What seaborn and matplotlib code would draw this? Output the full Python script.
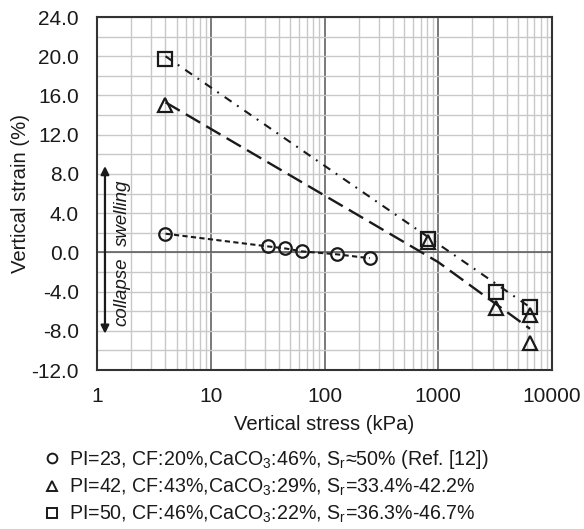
import numpy as np
import pandas as pd
import matplotlib
matplotlib.use("Agg")
import matplotlib.pyplot as plt
from matplotlib.lines import Line2D
from matplotlib.ticker import FixedLocator, MultipleLocator, FuncFormatter, LogLocator
import seaborn as sns

# ---------------- data ----------------
circ_x = [4, 32, 45, 63, 128, 250]
circ_y = [1.9, 0.6, 0.4, 0.1, -0.2, -0.6]

tri_x = [4, 817, 3245, 6410, 6410]
tri_y = [15.0, 1.1, -5.7, -6.4, -9.2]

sq_x = [4, 817, 3245, 6410]
sq_y = [19.7, 1.4, -4.0, -5.6]

tri_trend_x = [4, 1000, 6410]
tri_trend_y = [15.3, -1.0, -7.8]

sq_trend_x = [4, 6410]
sq_trend_y = [20.0, -5.6]

x_ticks = [1, 10, 100, 1000, 10000]
y_ticks = [-12, -8, -4, 0, 4, 8, 12, 16, 20, 24]

labels = [
    r"PI=23, CF:20%,CaCO$_\mathrm{3}$:46%, S$_\mathrm{r}$≈50% (Ref. [12])",
    r"PI=42, CF:43%,CaCO$_\mathrm{3}$:29%, S$_\mathrm{r}$=33.4%-42.2%",
    r"PI=50, CF:46%,CaCO$_\mathrm{3}$:22%, S$_\mathrm{r}$=36.3%-46.7%",
]

# ---------------- style ----------------
sns.set_theme(style="white")
plt.rcParams["font.family"] = ["Liberation Sans", "DejaVu Sans"]
plt.rcParams["mathtext.fontset"] = "custom"
plt.rcParams["mathtext.rm"] = "Liberation Sans"
plt.rcParams["mathtext.it"] = "Liberation Sans:italic"
plt.rcParams["mathtext.bf"] = "Liberation Sans:bold"

ink = "#1a1a1a"
fig = plt.figure(figsize=(5.84, 5.29), dpi=100)
ax = fig.add_axes([97 / 584, 1 - 370 / 529, (552 - 97) / 584, (370 - 17) / 529])

df_c = pd.DataFrame({"x": circ_x, "y": circ_y})
df_t = pd.DataFrame({"x": tri_x, "y": tri_y})
df_s = pd.DataFrame({"x": sq_x, "y": sq_y})
df_tt = pd.DataFrame({"x": tri_trend_x, "y": tri_trend_y})
df_st = pd.DataFrame({"x": sq_trend_x, "y": sq_trend_y})

# trend lines
sns.lineplot(data=df_tt, x="x", y="y", ax=ax, estimator=None, sort=False,
             color=ink, lw=1.7, linestyle=(0, (7.0, 3.0)), zorder=3)
sns.lineplot(data=df_st, x="x", y="y", ax=ax, estimator=None, sort=False,
             color=ink, lw=1.5, linestyle=(0, (4.0, 3.2, 0.9, 3.4)), zorder=3)

# circle series (with connecting dashed line)
sns.lineplot(data=df_c, x="x", y="y", ax=ax, estimator=None, sort=False,
             color=ink, lw=1.5, linestyle=(0, (2.5, 1.6)), marker="o", ms=9,
             mfc="none", mec=ink, mew=1.6, zorder=4)
# triangles
sns.lineplot(data=df_t, x="x", y="y", ax=ax, estimator=None, sort=False,
             color=ink, linestyle="none", marker="^", ms=10.5,
             mfc="none", mec=ink, mew=1.6, zorder=4)
# squares
sns.lineplot(data=df_s, x="x", y="y", ax=ax, estimator=None, sort=False,
             color=ink, linestyle="none", marker="s", ms=10,
             mfc="none", mec=ink, mew=1.6, zorder=4)

# ---------------- axes ----------------
ax.set_xscale("log")
ax.set_xlim(1, 10000)
ax.set_ylim(-12, 24)
ax.xaxis.set_major_locator(FixedLocator(x_ticks))
ax.xaxis.set_minor_locator(LogLocator(base=10, subs=np.arange(2, 10)))
ax.xaxis.set_major_formatter(FuncFormatter(lambda v, p: f"{v:g}"))
ax.xaxis.set_minor_formatter(FuncFormatter(lambda v, p: ""))
ax.yaxis.set_major_locator(FixedLocator(y_ticks))
ax.yaxis.set_minor_locator(MultipleLocator(2))
ax.yaxis.set_major_formatter(FuncFormatter(lambda v, p: f"{v:.1f}"))

ax.grid(False)
ax.grid(True, axis="x", which="minor", color="#c8c8c8", lw=1.0, zorder=0)
ax.grid(True, axis="x", which="major", color="#555555", lw=1.1, zorder=1)
ax.grid(True, axis="y", which="both", color="#c8c8c8", lw=1.0, zorder=0)
ax.set_axisbelow(True)
ax.axhline(0, color="#555555", lw=1.1, zorder=1)

for s in ax.spines.values():
    s.set_color("#333333")
    s.set_linewidth(1.5)

ax.tick_params(axis="both", which="both", length=0, labelsize=15, colors=ink)
ax.tick_params(axis="y", pad=13)
ax.tick_params(axis="x", pad=12)
ax.set_xlabel("Vertical stress (kPa)", fontsize=14.6, color=ink, labelpad=7)
ax.set_ylabel("Vertical strain (%)", fontsize=14.6, color=ink, labelpad=1)

# swelling / collapse annotation
ax.annotate("", xy=(1.175, 8.8), xytext=(1.175, -8.3),
            arrowprops=dict(arrowstyle="<|-|>", color=ink, lw=1.6,
                            mutation_scale=12, shrinkA=0, shrinkB=0), zorder=5)
ax.text(1.66, 0.6, "swelling", rotation=90, style="italic", fontsize=13.5,
        color=ink, ha="center", va="bottom", zorder=5)
ax.text(1.66, -0.5, "collapse", rotation=90, style="italic", fontsize=13.5,
        color=ink, ha="center", va="top", zorder=5)

# ---------------- legend ----------------
handles = [
    Line2D([], [], ls="none", marker="o", ms=7, mfc="none", mec=ink, mew=1.4),
    Line2D([], [], ls="none", marker="^", ms=7.5, mfc="none", mec=ink, mew=1.4),
    Line2D([], [], ls="none", marker="s", ms=7, mfc="none", mec=ink, mew=1.4),
]
fig.legend(handles, labels, loc="upper left", bbox_to_anchor=(44 / 584, 1 - 448 / 529),
           frameon=False, fontsize=14.1, handlelength=0.8, handletextpad=0.5,
           labelspacing=0.3, borderpad=0, borderaxespad=0, labelcolor=ink)

fig.savefig("out.png", dpi=100)
